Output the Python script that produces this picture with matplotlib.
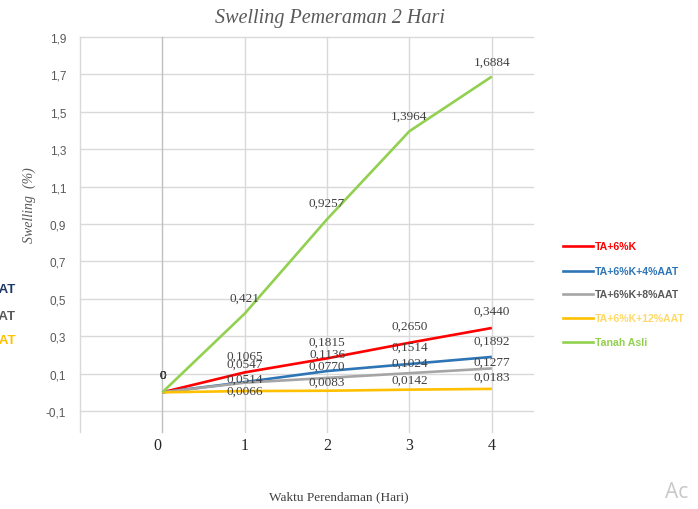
import matplotlib
matplotlib.use("Agg")
import matplotlib.pyplot as plt
import numpy as np

days = [0, 1, 2, 3, 4]
series_names = ["TA+6%K", "TA+6%K+4%AAT", "TA+6%K+8%AAT", "TA+6%K+12%AAT", "Tanah Asli"]
ta6k = [0, 0.1065, 0.1815, 0.2650, 0.3440]
ta6k_4aat = [0, 0.0547, 0.1136, 0.1514, 0.1892]
ta6k_8aat = [0, 0.0514, 0.0770, 0.1024, 0.1277]
ta6k_12aat = [0, 0.0066, 0.0083, 0.0142, 0.0183]
tanah_asli = [0, 0.421, 0.9257, 1.3964, 1.6884]
label_texts = {
    "TA+6%K": ["0", "0,1065", "0,1815", "0,2650", "0,3440"],
    "TA+6%K+4%AAT": ["0", "0,0547", "0,1136", "0,1514", "0,1892"],
    "TA+6%K+8%AAT": ["0", "0,0514", "0,0770", "0,1024", "0,1277"],
    "TA+6%K+12%AAT": ["0", "0,0066", "0,0083", "0,0142", "0,0183"],
    "Tanah Asli": ["0", "0,421", "0,9257", "1,3964", "1,6884"],
}
yticks = [-0.1, 0.1, 0.3, 0.5, 0.7, 0.9, 1.1, 1.3, 1.5, 1.7, 1.9]
ytick_labels = ["-0,1", "0,1", "0,3", "0,5", "0,7", "0,9", "1,1", "1,3", "1,5", "1,7", "1,9"]

values = [ta6k, ta6k_4aat, ta6k_8aat, ta6k_12aat, tanah_asli]
line_colors = ["#ff0000", "#2e75b6", "#a5a5a5", "#ffc000", "#92d050"]
text_colors = ["#ff0000", "#2e75b6", "#595959", "#ffd966", "#92d050"]
# label vertical offsets in pixels (negative = up)
label_dy = [
    [-17, -17, -17, -17, -17],
    [-17, -18, -17, -17, -16],
    [-17, -4, -12, -10, -7],
    [-17, 0, -9, -10, -12],
    [-17, -16, -16, -15, -15],
]

W, H = 698, 510
fig = plt.figure(figsize=(W / 100, H / 100), dpi=100)
ax = fig.add_axes([80 / W, 1 - 412 / H, (533 - 80) / W, (412 - 38) / H])
ax.set_xlim(-1, 4.5)
ax.set_ylim(-0.1, 1.9)
for s in ax.spines.values():
    s.set_visible(False)

grid_c = "#d9d9d9"
for yv in yticks:
    ax.axhline(yv, color=grid_c, lw=1.0, zorder=1, clip_on=False)
for xv in [-1, 0, 1, 2, 3, 4]:
    c = "#bfbfbf" if xv == 0 else grid_c
    ax.plot([xv, xv], [-0.21, 1.9], color=c, lw=1.0, zorder=1, clip_on=False)

serif = ["Liberation Serif", "DejaVu Serif"]
sans = ["Liberation Sans", "DejaVu Sans"]

for name, vals, lc, dys in zip(series_names, values, line_colors, label_dy):
    ax.plot(days, vals, color=lc, lw=1.9, zorder=3, label=name, solid_capstyle="butt")
    for x, v, t, dy in zip(days, vals, label_texts[name], dys):
        ax.annotate(t, (x, v), xytext=(0, -dy * 0.72), textcoords="offset points",
                    ha="center", va="center", fontsize=9.5, color="#404040",
                    family=serif, zorder=4)

ax.set_yticks(yticks)
ax.set_yticklabels(ytick_labels, family=sans, fontsize=8.5, color="#595959")
ax.tick_params(axis="y", length=0, pad=10)
ax.set_xticks([])

# x tick labels
for x in days:
    ax.text(x - (0.06 if x == 0 else 0), -0.28, str(x), ha="center", va="center",
            fontsize=11.5, family=serif, color="#262626")

fig.text(330 / W, 1 - 18 / H, "Swelling Pemeraman 2 Hari", ha="center", va="center",
         fontsize=14.5, style="italic", family=serif, color="#595959")
fig.text(339 / W, 1 - 497 / H, "Waktu Perendaman (Hari)", ha="center", va="center",
         fontsize=9.5, family=serif, color="#404040")
fig.text(29 / W, 1 - 205 / H, "Swelling  (%)", ha="center", va="center", rotation=90,
         fontsize=10, style="italic", family=serif, color="#595959")

# legend (manual)
leg_y = [247, 272, 295, 319, 343]
for name, lc, tc, yy in zip(series_names, line_colors, text_colors, leg_y):
    fig.add_artist(plt.Line2D([563 / W, 593 / W], [1 - yy / H, 1 - yy / H], color=lc, lw=1.9))
    fig.text(595 / W, 1 - yy / H, name, ha="left", va="center", fontsize=7.6,
             fontweight="bold", family=sans, color=tc)

# cut-off fragments of another legend at left edge
for name, tc, yy in zip(series_names[1:4], ["#1f3864", "#595959", "#ffc000"], [290, 317, 341]):
    fig.text(16 / W, 1 - yy / H, name, ha="right", va="center", fontsize=9.5,
             fontweight="bold", family=sans, color=tc)

fig.text(665 / W, 1 - 493 / H, "Ac", ha="left", va="center", fontsize=15,
         family=["Open Sans", "DejaVu Sans"], color="#c8c8c8")

fig.savefig("out.png", dpi=100, facecolor="white")
